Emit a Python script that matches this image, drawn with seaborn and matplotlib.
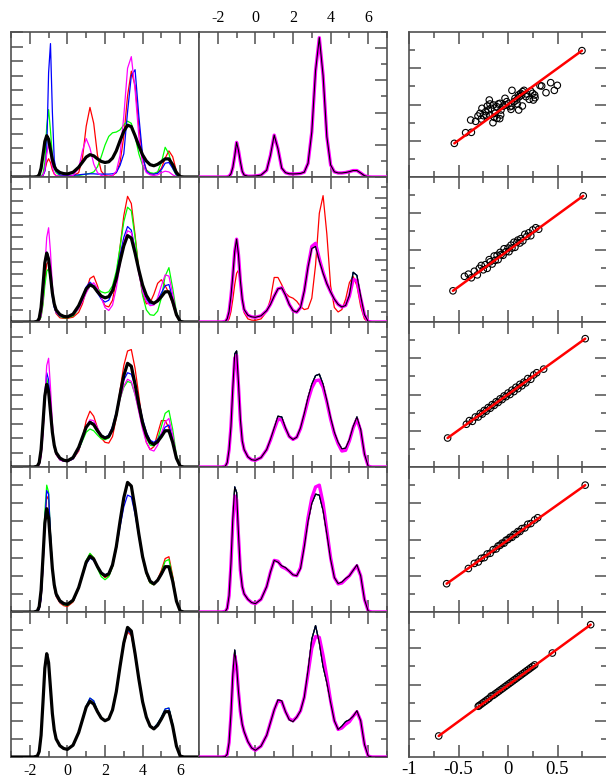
import matplotlib
matplotlib.use("Agg")
import matplotlib.pyplot as plt
import seaborn as sns
from matplotlib.ticker import MultipleLocator

sns.set_style("white")
plt.rcParams['font.family'] = ['Liberation Serif', 'DejaVu Serif']
plt.rcParams['axes.unicode_minus'] = False

# ---------------- shared x grid of the density curves ----------------
grid_x = [-3.0, -1.8, -1.6, -1.5, -1.4, -1.3, -1.2, -1.1, -1.0, -0.9, -0.8, -0.7, -0.6, -0.4, -0.2, 0.0,
          0.3, 0.6, 0.8, 1.0, 1.2, 1.4, 1.6, 1.8, 2.0, 2.2, 2.4, 2.6, 2.8, 3.0, 3.2, 3.4, 3.6, 3.8,
          4.0, 4.2, 4.4, 4.6, 4.8, 5.0, 5.2, 5.4, 5.6, 5.8, 6.0, 6.2, 7.0]

# reference distribution (thick black, left column, same in every row)
ref_black = [0, 0, 0.05, 0.3, 1.2, 3.0, 4.9, 5.7, 5.2, 3.8, 2.4, 1.5, 1.0, 0.62, 0.47, 0.42, 0.65, 1.35, 2.05, 2.75,
             3.08, 2.92, 2.5, 2.15, 2.0, 2.1, 2.6, 3.6, 5.0, 6.3, 7.15, 6.95, 5.7, 4.3, 3.05, 2.2, 1.7, 1.55, 1.75,
             2.1, 2.5, 2.5, 1.7, 0.6, 0.05, 0, 0]

# left column, row 1
red_1 = [0, 0, 0, 0.04, 0.1, 0.2, 0.9, 2.0, 2.52, 2.0, 1.0, 0.4, 0.2, 0.1, 0.1, 0.1, 0.16, 0.6, 2.6, 7.0, 9.6, 7.4,
         3.0, 0.8, 0.2, 0.1, 0.2, 0.6, 2.0, 5.6, 11.2, 14.6, 12.6, 7.0, 2.6, 1.0, 0.5, 0.4, 0.6, 1.2, 2.6, 3.6, 2.8,
         0.8, 0.1, 0, 0]
green_1 = [0, 0, 0, 0.06, 0.16, 0.4, 2.0, 7.0, 9.3, 6.4, 3.0, 1.2, 0.6, 0.2, 0.1, 0.1, 0.1, 0.2, 0.3, 0.4, 0.5, 0.7,
           1.4, 2.8, 4.4, 5.6, 6.1, 6.2, 6.5, 7.2, 7.7, 7.4, 5.6, 3.2, 1.6, 0.9, 0.6, 0.5, 0.7, 2.0, 4.1, 3.2, 1.2,
           0.2, 0, 0, 0]
blue_1 = [0, 0, 0, 0, 0.04, 0.2, 0.8, 3.6, 14.4, 18.4, 9.0, 2.4, 0.8, 0.3, 0.2, 0.2, 0.24, 0.3, 0.36, 0.4, 0.44,
          0.44, 0.4, 0.4, 0.4, 0.4, 0.44, 0.6, 1.6, 3.2, 9.0, 14.0, 14.8, 8.4, 3.0, 0.8, 0.4, 0.4, 0.5, 1.0, 1.9, 2.0,
          1.2, 0.3, 0, 0, 0]
magenta_1 = [0, 0, 0, 0.04, 0.08, 0.2, 1.0, 3.2, 4.5, 3.2, 1.4, 0.5, 0.2, 0.1, 0.1, 0.1, 0.2, 1.2, 3.6, 5.3, 4.0,
             1.8, 0.6, 0.2, 0.1, 0.1, 0.2, 0.8, 3.0, 8.4, 15.0, 16.6, 12.0, 5.6, 1.8, 0.6, 0.3, 0.2, 0.3, 0.6, 0.8,
             0.7, 0.3, 0.06, 0, 0, 0]

# left column, row 2
red_2 = [0, 0, 0.02, 0.1, 0.5, 1.6, 3.5, 4.8, 5.0, 4.0, 2.5, 1.3, 0.7, 0.35, 0.3, 0.3, 0.4, 0.8, 1.5, 2.6, 3.6, 3.8,
         3.0, 2.0, 1.35, 1.25, 1.8, 3.5, 6.2, 8.8, 10.4, 9.8, 7.2, 4.3, 2.3, 1.5, 1.6, 2.3, 3.2, 3.5, 3.0, 2.4, 1.5,
         0.5, 0.05, 0, 0]
green_2 = [0, 0, 0.02, 0.1, 0.4, 1.4, 3.0, 4.2, 4.4, 3.6, 2.3, 1.3, 0.8, 0.45, 0.35, 0.35, 0.5, 1.1, 1.8, 2.5, 2.95,
           2.95, 2.75, 2.5, 2.4, 2.5, 3.0, 4.2, 6.2, 8.3, 9.5, 9.2, 7.0, 4.3, 2.2, 1.0, 0.6, 0.55, 0.9, 2.0, 3.8,
           4.5, 2.8, 0.8, 0.05, 0, 0]
blue_2 = [0, 0, 0.03, 0.2, 0.9, 2.6, 4.8, 5.8, 5.3, 3.6, 2.1, 1.2, 0.8, 0.5, 0.4, 0.4, 0.6, 1.3, 2.1, 2.9, 3.3, 3.0,
          2.4, 1.9, 1.65, 1.8, 2.5, 3.8, 5.5, 7.0, 7.9, 7.6, 6.0, 4.2, 2.8, 1.9, 1.5, 1.5, 1.8, 2.4, 3.0, 3.1, 2.0,
          0.6, 0.05, 0, 0]
magenta_2 = [0, 0, 0.02, 0.1, 0.5, 1.8, 4.5, 7.0, 7.8, 5.8, 3.0, 1.4, 0.8, 0.5, 0.45, 0.45, 0.6, 1.1, 1.7, 2.4,
             3.0, 3.25, 2.8, 2.0, 1.2, 0.95, 1.4, 2.8, 4.8, 6.6, 7.55, 7.4, 6.0, 4.0, 2.5, 1.7, 1.35, 1.4, 2.0, 3.0,
             3.9, 3.8, 2.3, 0.7, 0.05, 0, 0]

# left column, row 3
red_3 = [0, 0, 0.03, 0.2, 0.9, 2.5, 4.5, 5.8, 5.6, 4.1, 2.5, 1.4, 0.85, 0.5, 0.4, 0.38, 0.55, 1.1, 2.0, 3.2, 3.85,
         3.5, 2.7, 2.0, 1.7, 1.65, 2.1, 3.4, 5.3, 7.0, 8.0, 8.1, 6.8, 4.9, 3.0, 1.7, 1.2, 1.4, 2.3, 3.2, 3.2, 2.7,
         1.8, 0.6, 0.05, 0, 0]
green_3 = [0, 0, 0.03, 0.2, 0.9, 2.6, 4.9, 6.1, 5.6, 4.0, 2.4, 1.4, 0.9, 0.55, 0.42, 0.4, 0.6, 1.2, 1.8, 2.4, 2.62,
           2.5, 2.2, 1.95, 1.88, 2.0, 2.6, 3.6, 4.7, 5.5, 5.9, 5.8, 5.0, 3.9, 2.8, 2.0, 1.5, 1.45, 1.9, 2.8, 3.7,
           3.9, 2.6, 0.8, 0.05, 0, 0]
blue_3 = [0, 0, 0.03, 0.2, 0.9, 2.6, 5.0, 6.5, 6.0, 4.2, 2.5, 1.4, 0.9, 0.5, 0.4, 0.38, 0.55, 1.2, 1.9, 2.7, 3.15,
          3.0, 2.6, 2.2, 2.05, 2.2, 2.8, 3.8, 5.0, 6.0, 6.5, 6.4, 5.6, 4.5, 3.3, 2.4, 1.85, 1.7, 1.9, 2.3, 2.75, 2.9,
          2.0, 0.65, 0.05, 0, 0]
magenta_3 = [0, 0, 0.02, 0.15, 0.7, 2.2, 4.8, 7.0, 7.5, 5.5, 3.0, 1.5, 0.9, 0.5, 0.4, 0.4, 0.6, 1.2, 2.0, 2.8, 3.25,
             3.2, 2.7, 2.2, 2.0, 2.1, 2.6, 3.5, 4.7, 5.6, 6.05, 5.9, 5.0, 3.8, 2.6, 1.7, 1.2, 1.1, 1.5, 2.3, 3.1,
             3.35, 2.2, 0.7, 0.05, 0, 0]

# left column, row 4
red_4 = [0, 0, 0.02, 0.15, 0.7, 2.4, 4.9, 6.4, 6.2, 4.2, 2.4, 1.35, 0.85, 0.5, 0.35, 0.3, 0.55, 1.3, 2.05, 2.8, 3.2,
         3.0, 2.5, 2.1, 1.9, 2.0, 2.5, 3.5, 4.9, 6.3, 7.15, 6.95, 5.7, 4.3, 3.0, 2.1, 1.6, 1.5, 1.8, 2.3, 2.95, 3.05,
         2.0, 0.6, 0.05, 0, 0]
green_4 = [0, 0, 0.03, 0.2, 0.9, 2.8, 5.5, 7.0, 6.6, 4.3, 2.4, 1.4, 0.9, 0.55, 0.4, 0.35, 0.6, 1.35, 2.1, 2.85,
           3.24, 3.0, 2.4, 1.95, 1.78, 1.95, 2.5, 3.6, 5.0, 6.3, 7.15, 6.95, 5.7, 4.3, 3.0, 2.1, 1.6, 1.5, 1.75, 2.2,
           2.8, 2.9, 1.9, 0.6, 0.05, 0, 0]
blue_4 = [0, 0, 0.02, 0.15, 0.7, 2.4, 5.0, 6.7, 6.5, 4.3, 2.4, 1.4, 0.9, 0.55, 0.42, 0.4, 0.65, 1.35, 2.0, 2.65,
          2.97, 2.85, 2.5, 2.2, 2.05, 2.15, 2.6, 3.5, 4.7, 5.8, 6.45, 6.35, 5.4, 4.2, 3.0, 2.2, 1.7, 1.55, 1.75, 2.05,
          2.45, 2.5, 1.7, 0.6, 0.05, 0, 0]

# left column, row 5
red_5 = [0, 0, 0.05, 0.3, 1.2, 3.0, 4.9, 5.7, 5.2, 3.8, 2.4, 1.5, 1.0, 0.62, 0.47, 0.42, 0.65, 1.35, 2.05, 2.75, 3.1,
         2.95, 2.5, 2.15, 2.0, 2.1, 2.6, 3.6, 5.0, 6.2, 6.9, 6.7, 5.6, 4.3, 3.05, 2.2, 1.7, 1.55, 1.75, 2.1, 2.5,
         2.55, 1.7, 0.6, 0.05, 0, 0]
green_blue_5 = [0, 0, 0.05, 0.3, 1.2, 3.0, 4.9, 5.7, 5.2, 3.8, 2.4, 1.5, 1.0, 0.62, 0.47, 0.42, 0.65, 1.35, 2.05,
                2.8, 3.25, 3.1, 2.55, 2.15, 2.0, 2.1, 2.6, 3.6, 5.0, 6.3, 7.0, 6.8, 5.7, 4.3, 3.05, 2.2, 1.7, 1.6,
                1.85, 2.2, 2.65, 2.7, 1.8, 0.6, 0.05, 0, 0]

# middle column (thin black = mid_k, thick magenta = mid_m)
mid_k1 = [0, 0, 0, 0.01, 0.05, 0.2, 0.6, 1.3, 2.15, 1.65, 0.95, 0.35, 0.12, 0.05, 0.05, 0.06, 0.12, 0.42, 1.35, 2.6,
          1.75, 0.55, 0.27, 0.2, 0.19, 0.2, 0.22, 0.3, 0.85, 2.8, 6.6, 8.65, 6.3, 2.5, 0.75, 0.32, 0.25, 0.25, 0.28,
          0.33, 0.4, 0.4, 0.25, 0.08, 0.01, 0, 0]
mid_k2 = [0, 0, 0.05, 0.3, 1.0, 2.5, 4.5, 6.8, 8.0, 6.5, 4.0, 2.2, 1.2, 0.65, 0.5, 0.45, 0.6, 1.1, 1.7, 2.5, 3.2,
          3.3, 2.6, 1.7, 1.1, 0.95, 1.4, 3.0, 5.3, 7.1, 7.3, 5.9, 4.7, 3.7, 2.9, 2.2, 1.7, 1.45, 1.6, 2.6, 4.8, 4.5,
          2.5, 0.7, 0.05, 0, 0]
mid_m2 = [0, 0, 0.05, 0.3, 1.0, 2.5, 4.5, 6.8, 8.0, 6.5, 4.0, 2.2, 1.2, 0.65, 0.5, 0.45, 0.6, 1.1, 1.7, 2.5, 3.2,
          3.3, 2.6, 1.7, 1.1, 0.95, 1.4, 3.0, 5.4, 7.3, 7.6, 6.1, 4.8, 3.7, 2.9, 2.2, 1.7, 1.45, 1.6, 2.5, 4.1, 4.0,
          2.3, 0.7, 0.05, 0, 0]
mid_r2 = [0, 0, 0, 0.05, 0.3, 1.0, 2.2, 3.6, 4.7, 5.0, 3.8, 2.0, 0.9, 0.3, 0.18, 0.16, 0.3, 1.0, 2.2, 4.3, 4.3,
          3.6, 2.8, 2.45, 2.3, 2.0, 1.5, 1.2, 1.3, 2.3, 5.5, 10.5, 12.2, 8.5, 3.5, 1.4, 0.97, 1.2, 2.2, 3.8, 4.4,
          3.5, 1.5, 0.3, 0, 0, 0]
mid_k3 = [0, 0, 0.05, 0.3, 1.2, 2.8, 5.5, 7.8, 8.0, 5.8, 3.3, 1.8, 1.2, 0.7, 0.5, 0.46, 0.65, 1.2, 1.9, 2.7, 3.5,
          3.45, 2.7, 2.1, 1.9, 2.05, 2.7, 3.7, 4.8, 5.7, 6.3, 6.4, 5.7, 4.6, 3.4, 2.4, 1.7, 1.25, 1.3, 1.9, 2.8, 3.45,
          2.6, 0.9, 0.05, 0, 0]
mid_m3 = [0, 0, 0.05, 0.3, 1.2, 2.8, 5.4, 7.5, 7.7, 5.6, 3.2, 1.8, 1.2, 0.7, 0.5, 0.46, 0.65, 1.2, 1.85, 2.6, 3.3,
          3.25, 2.65, 2.1, 1.9, 2.05, 2.65, 3.6, 4.6, 5.45, 5.95, 6.0, 5.5, 4.5, 3.3, 2.3, 1.6, 1.1, 1.15, 1.8, 2.7,
          3.3, 2.5, 0.9, 0.05, 0, 0]
mid_k4 = [0, 0, 0.03, 0.2, 0.9, 2.7, 5.2, 6.9, 6.6, 4.3, 2.3, 1.4, 1.0, 0.7, 0.52, 0.46, 0.7, 1.4, 2.2, 2.85, 2.75,
          2.55, 2.45, 2.25, 2.05, 2.0, 2.4, 3.6, 5.0, 6.0, 6.5, 6.45, 5.6, 4.3, 2.9, 1.9, 1.57, 1.65, 1.85, 2.0, 2.3,
          2.6, 2.0, 0.7, 0.05, 0, 0]
mid_m4 = [0, 0, 0.03, 0.2, 0.9, 2.6, 5.0, 6.4, 6.2, 4.2, 2.3, 1.4, 1.0, 0.7, 0.52, 0.46, 0.7, 1.4, 2.2, 2.85, 2.8,
          2.5, 2.4, 2.25, 2.05, 2.0, 2.45, 3.7, 5.2, 6.3, 6.9, 7.0, 6.0, 4.5, 3.0, 1.9, 1.55, 1.6, 1.8, 2.0, 2.3,
          2.55, 2.0, 0.7, 0.05, 0, 0]
mid_k5 = [0, 0, 0.02, 0.15, 0.8, 2.4, 4.6, 5.9, 5.0, 3.6, 2.5, 1.8, 1.4, 0.85, 0.5, 0.37, 0.6, 1.2, 1.9, 2.6, 3.15,
          3.1, 2.5, 2.05, 1.95, 2.2, 2.55, 3.3, 4.8, 6.5, 7.25, 6.3, 5.0, 4.1, 3.0, 2.0, 1.52, 1.7, 1.95, 2.05, 2.25,
          2.55, 2.0, 0.7, 0.05, 0, 0]
mid_m5 = [0, 0, 0.02, 0.15, 0.8, 2.3, 4.4, 5.6, 5.0, 3.6, 2.5, 1.8, 1.4, 0.85, 0.5, 0.37, 0.6, 1.2, 1.9, 2.6, 3.1,
          3.05, 2.5, 2.1, 2.0, 2.2, 2.55, 3.3, 4.6, 6.0, 6.65, 6.6, 5.6, 4.4, 3.1, 2.0, 1.52, 1.6, 1.8, 1.95, 2.25,
          2.5, 2.0, 0.7, 0.05, 0, 0]

# right column scatter (first and last points are the ends of the red line)
sc1_x = [-0.542, -0.428, -0.370, -0.377, -0.327, -0.303, -0.269, -0.263, -0.222, -0.209, -0.189, -0.182, -0.152,
         -0.138, -0.111, -0.084, -0.098, -0.071, -0.047, -0.013, 0.003, 0.030, 0.040, 0.061, 0.088, 0.108, 0.114,
         0.128, 0.145, 0.162, 0.138, 0.182, 0.215, 0.229, 0.249, 0.269, 0.273, 0.256, 0.323, 0.384, 0.431, 0.468,
         0.498, -0.249, -0.226, -0.199, -0.172, -0.148, -0.114, -0.081, -0.020, 0.020, 0.071, 0.104, 0.148, 0.189,
         -0.131, -0.283, -0.030, 0.037, -0.182, -0.074, 0.094, 0.340, 0.747]
sc1_y = [-0.536, -0.389, -0.384, -0.214, -0.232, -0.159, -0.200, -0.053, -0.149, -0.021, 0.062, 0.007, -0.251,
         -0.177, -0.191, -0.195, 0.007, -0.076, -0.021, 0.039, 0.007, -0.067, 0.195, 0.039, 0.062, -0.076, 0.108,
         0.154, -0.021, 0.195, 0.131, 0.108, 0.071, 0.186, 0.154, 0.131, 0.094, 0.062, 0.260, 0.163, 0.301, 0.195,
         0.264, -0.154, -0.099, -0.076, -0.053, -0.007, -0.030, 0.016, -0.007, -0.030, 0.085, 0.131, 0.177, 0.145,
         -0.122, -0.122, 0.085, -0.021, -0.145, -0.145, 0.007, 0.255, 0.743]
sc2_x = [-0.556, -0.44, -0.40, -0.37, -0.34, -0.31, -0.29, -0.27, -0.25, -0.23, -0.21, -0.19, -0.18, -0.16, -0.14,
         -0.13, -0.11, -0.10, -0.08, -0.07, -0.05, -0.04, -0.02, 0.00, 0.01, 0.03, 0.04, 0.06, 0.07, 0.09, 0.10,
         0.12, 0.13, 0.15, 0.17, 0.19, 0.21, 0.23, 0.25, 0.28, 0.31, 0.76]
sc2_y = [-0.570, -0.37, -0.34, -0.39, -0.30, -0.35, -0.26, -0.22, -0.28, -0.21, -0.26, -0.14, -0.17, -0.20, -0.09,
         -0.15, -0.08, -0.14, -0.04, -0.07, -0.08, 0.01, -0.03, 0.02, -0.03, 0.06, 0.02, 0.10, 0.03, 0.10, 0.13,
         0.09, 0.15, 0.12, 0.21, 0.18, 0.23, 0.19, 0.27, 0.30, 0.28, 0.74]
sc3_x = [-0.61, -0.42, -0.39, -0.36, -0.33, -0.30, -0.28, -0.26, -0.24, -0.22, -0.20, -0.18, -0.16, -0.14, -0.12,
         -0.10, -0.08, -0.06, -0.04, -0.02, 0.00, 0.02, 0.04, 0.06, 0.08, 0.10, 0.12, 0.14, 0.16, 0.18, 0.20, 0.23,
         0.26, 0.29, 0.36, 0.78]
sc3_y = [-0.60, -0.41, -0.36, -0.37, -0.31, -0.31, -0.26, -0.27, -0.22, -0.23, -0.18, -0.19, -0.14, -0.15, -0.10,
         -0.11, -0.06, -0.07, -0.02, -0.03, 0.02, 0.00, 0.06, 0.04, 0.10, 0.08, 0.14, 0.12, 0.17, 0.16, 0.22, 0.21,
         0.27, 0.30, 0.35, 0.77]
sc4_x = [-0.62, -0.40, -0.34, -0.30, -0.27, -0.24, -0.21, -0.18, -0.15, -0.12, -0.10, -0.08, -0.06, -0.04, -0.02,
         0.00, 0.02, 0.04, 0.06, 0.08, 0.10, 0.12, 0.14, 0.17, 0.20, 0.23, 0.27, 0.30, 0.78]
sc4_y = [-0.61, -0.40, -0.33, -0.31, -0.26, -0.25, -0.20, -0.19, -0.14, -0.13, -0.09, -0.08, -0.05, -0.05, -0.01,
         0.00, 0.03, 0.03, 0.07, 0.07, 0.11, 0.11, 0.15, 0.16, 0.21, 0.22, 0.27, 0.30, 0.75]
sc5_x = [-0.70, -0.30, -0.29, -0.27, -0.25, -0.23, -0.21, -0.19, -0.17, -0.15, -0.13, -0.11, -0.09, -0.07, -0.05,
         -0.03, -0.01, 0.01, 0.03, 0.05, 0.07, 0.09, 0.11, 0.13, 0.15, 0.17, 0.19, 0.21, 0.23, 0.25, 0.27, 0.448,
         0.835]
sc5_y = [-0.71, -0.30, -0.29, -0.27, -0.25, -0.23, -0.21, -0.19, -0.16, -0.15, -0.13, -0.11, -0.09, -0.07, -0.05,
         -0.03, -0.01, 0.01, 0.03, 0.05, 0.07, 0.09, 0.11, 0.13, 0.15, 0.17, 0.19, 0.21, 0.23, 0.25, 0.27, 0.434,
         0.825]

# tick labels
dens_tick_vals = [-2, 0, 2, 4, 6]
dens_tick_labels = ['-2', '0', '2', '4', '6']
dens_minor_vals = [-3, -1, 1, 3, 5, 7]
sc_tick_vals = [-1, -0.5, 0, 0.5]
sc_tick_labels = ['-1', '-0.5', '0', '0.5']
sc_minor_vals = [-0.75, -0.25, 0.25, 0.75]
sc_ymajor = [-0.5, 0, 0.5]

left_curves = [
    [(red_1, '#ff0000'), (green_1, '#00ff00'), (blue_1, '#0000ff'), (magenta_1, '#ff00ff')],
    [(red_2, '#ff0000'), (green_2, '#00ff00'), (blue_2, '#0000ff'), (magenta_2, '#ff00ff')],
    [(red_3, '#ff0000'), (green_3, '#00ff00'), (blue_3, '#0000ff'), (magenta_3, '#ff00ff')],
    [(red_4, '#ff0000'), (green_4, '#00ff00'), (blue_4, '#0000ff'), (ref_black, '#ff00ff')],
    [(red_5, '#ff0000'), (green_blue_5, '#00ff00'), (green_blue_5, '#0000ff'), (ref_black, '#ff00ff')],
]
left_top = [20, 12, 10, 8, 8]
left_step = [2, 1, 1, 1, 1]

mid_thin = [
    [(mid_k1, '#ff0000'), (mid_k1, '#00ff00'), (mid_k1, '#0000ff')],
    [(mid_r2, '#ff0000'), (mid_k2, '#00ff00'), (mid_k2, '#0000ff')],
    [(mid_k3, '#ff0000'), (mid_k3, '#00ff00'), (mid_k3, '#0000ff')],
    [(mid_k4, '#ff0000'), (mid_k4, '#00ff00'), (mid_k4, '#0000ff')],
    [(mid_k5, '#ff0000'), (mid_k5, '#00ff00'), (mid_k5, '#0000ff')],
]
mid_mag = [mid_k1, mid_m2, mid_m3, mid_m4, mid_m5]
mid_blk = [mid_k1, mid_k2, mid_k3, mid_k4, mid_k5]
mid_top = [9, 14, 10, 8, 8]

scatter_x = [sc1_x, sc2_x, sc3_x, sc4_x, sc5_x]
scatter_y = [sc1_y, sc2_y, sc3_y, sc4_y, sc5_y]

# ---------------- layout ----------------
W, H = 606, 779
fig = plt.figure(figsize=(W / 100, H / 100), dpi=100)
fig.patch.set_facecolor('white')
SP = '#505050'
MAJ, MIN = 8.6, 4.3


def frame(ax):
    ax.set_facecolor('white')
    for s in ax.spines.values():
        s.set_visible(True)
        s.set_color(SP)
        s.set_linewidth(1.2)
    ax.tick_params(which='both', direction='in', color=SP, width=1.1, labelcolor='black')
    ax.tick_params(which='major', length=MAJ)
    ax.tick_params(which='minor', length=MIN)
    ax.set_xlabel('')
    ax.set_ylabel('')


def line(ax, y, color, lw, z):
    sns.lineplot(x=grid_x, y=y, ax=ax, color=color, linewidth=lw, estimator=None, sort=False,
                 legend=False, zorder=z)


for r in range(5):
    top_px = 32 + 145 * r
    b = 1 - (top_px + 145) / H
    h = 145 / H

    # left column
    ax = fig.add_axes([11 / W, b, 188 / W, h])
    for y, c in left_curves[r]:
        line(ax, y, c, 0.9, 2)
    line(ax, ref_black, 'black', 2.3, 3)
    ax.set_xlim(-3, 7)
    ax.set_ylim(0, left_top[r])
    frame(ax)
    ax.set_xticks(dens_tick_vals, labels=dens_tick_labels if r == 4 else [''] * 5)
    ax.set_xticks(dens_minor_vals, minor=True)
    ax.yaxis.set_major_locator(MultipleLocator(left_step[r]))
    ax.tick_params(axis='x', which='both', top=True, bottom=True, labeltop=False,
                   labelbottom=(r == 4), labelsize=11.5, pad=4)
    ax.tick_params(axis='y', which='both', left=True, right=False, labelleft=False)

    # middle column
    ax = fig.add_axes([199 / W, b, 188 / W, h])
    for y, c in mid_thin[r]:
        line(ax, y, c, 0.9, 2)
    line(ax, mid_mag[r], '#ff00ff', 2.4, 3)
    line(ax, mid_blk[r], 'black', 0.8, 4)
    ax.set_xlim(-3, 7)
    ax.set_ylim(0, mid_top[r])
    frame(ax)
    ax.set_xticks(dens_tick_vals, labels=dens_tick_labels if r == 0 else [''] * 5)
    ax.set_xticks(dens_minor_vals, minor=True)
    ax.yaxis.set_major_locator(MultipleLocator(2))
    ax.yaxis.set_minor_locator(MultipleLocator(1))
    ax.tick_params(axis='x', which='both', top=True, bottom=True, labeltop=(r == 0),
                   labelbottom=False, labelsize=11.5, pad=4)
    ax.tick_params(axis='y', which='both', left=False, right=True, labelleft=False, labelright=False)

    # right column
    ax = fig.add_axes([409 / W, b, 198 / W, h])
    sns.scatterplot(x=scatter_x[r], y=scatter_y[r], ax=ax, marker='o', s=22, legend=False, zorder=2)
    coll = ax.collections[-1]
    coll.set_facecolor('none')
    coll.set_edgecolor('black')
    coll.set_linewidth(0.8)
    sns.lineplot(x=[scatter_x[r][0], scatter_x[r][-1]], y=[scatter_y[r][0], scatter_y[r][-1]], ax=ax,
                 color='#ff0000', linewidth=1.8, estimator=None, sort=False, legend=False, zorder=3)
    ax.set_xlim(-1, 1)
    ax.set_ylim(-1, 1)
    frame(ax)
    ax.set_xticks(sc_tick_vals, labels=sc_tick_labels if r == 4 else [''] * 4)
    ax.set_xticks(sc_minor_vals, minor=True)
    ax.set_yticks(sc_ymajor, labels=[''] * 3)
    ax.set_yticks(sc_minor_vals, minor=True)
    ax.tick_params(axis='x', which='both', top=True, bottom=True, labeltop=False,
                   labelbottom=(r == 4), labelsize=13.5, pad=3)
    ax.tick_params(axis='y', which='both', left=True, right=True, labelleft=False, labelright=False)

fig.savefig('out.png', dpi=100, facecolor='white')
